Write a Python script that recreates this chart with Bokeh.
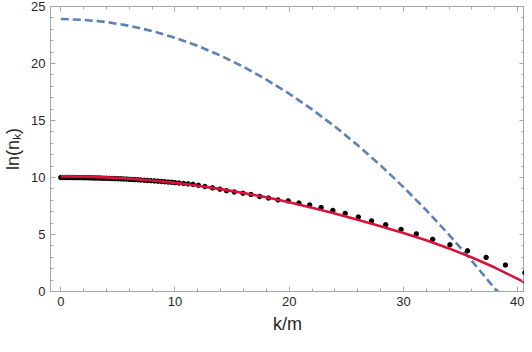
from bokeh.plotting import figure
from bokeh.models import LinearAxis, SingleIntervalTicker, Range1d
from bokeh.embed import file_html
from bokeh.resources import INLINE

# dashed blue curve
blue_x = [0, 2, 4, 6, 8, 10, 12, 14, 16, 18, 20, 22, 24, 26, 28, 30, 32, 34, 36, 38, 38.3]
blue_y = [23.9, 23.83, 23.64, 23.31, 22.85, 22.26, 21.54, 20.69, 19.71, 18.59, 17.35,
          15.97, 14.47, 12.83, 11.06, 9.16, 7.13, 4.97, 2.67, 0.25, 0.0]

# red solid curve
red_x = [0, 2, 4, 6, 8, 10, 12, 14, 16, 18, 20, 22, 24, 26, 28, 30, 32, 34, 36, 38, 40, 41]
red_y = [10.1, 10.08, 10.01, 9.9, 9.74, 9.53, 9.28, 8.98, 8.64, 8.26, 7.82, 7.34, 6.84,
         6.3, 5.72, 5.14, 4.5, 3.78, 2.98, 2.1, 1.1, 0.6]

# black points
dot_x = [0, 0.15, 0.3, 0.45, 0.6, 0.75, 0.9, 1.05, 1.2, 1.4, 1.6, 1.8, 2.0, 2.2, 2.4,
         2.6, 2.8, 3.0, 3.2, 3.4, 3.6, 3.8, 4.0, 4.25, 4.5, 4.75, 5.0, 5.25, 5.5, 5.75,
         6.0, 6.25, 6.5, 6.75, 7.0, 7.3, 7.6, 7.9, 8.2, 8.5, 8.8, 9.1, 9.4, 9.7,
         10.0, 10.35, 10.75, 11.15,
         11.57, 12.05, 12.62, 13.28, 13.93, 14.51, 15.19, 15.94, 16.65, 17.42, 18.19,
         19.02, 19.91, 20.85, 21.79, 22.79, 23.82, 24.9, 26.05, 27.21, 28.45, 29.79,
         31.13, 32.56, 34.07, 35.61, 37.24, 38.93, 40.64]
dot_y = [10.0, 10.0, 10.0, 10.0, 10.0, 10.0, 10.0, 10.0, 9.99, 9.99, 9.99, 9.99, 9.98,
         9.98, 9.97, 9.97, 9.96, 9.96, 9.95, 9.95, 9.94, 9.93, 9.93, 9.92, 9.91, 9.9,
         9.89, 9.88, 9.87, 9.86, 9.84, 9.83, 9.81, 9.8, 9.78, 9.76, 9.74, 9.72, 9.7,
         9.68, 9.65, 9.63, 9.6, 9.58, 9.55, 9.52, 9.48, 9.44,
         9.40, 9.32, 9.21, 9.09, 8.98, 8.84, 8.73, 8.62, 8.51, 8.34, 8.20, 8.03, 7.95,
         7.76, 7.59, 7.36, 7.11, 6.85, 6.53, 6.19, 5.85, 5.44, 5.05, 4.58, 4.10, 3.57,
         2.99, 2.32, 1.65]

x_ticks_major = 10
y_ticks_major = 5

FONT = "Liberation Sans"
FRAME = "#a6a6a6"
TXT = "#262626"

p = figure(width=524, height=336, output_backend="svg", toolbar_location=None,
           x_range=Range1d(-0.9, 40.6), y_range=Range1d(0, 25),
           x_axis_location=None, y_axis_location=None,
           min_border_left=0, min_border_right=0, min_border_top=6, min_border_bottom=0)
p.background_fill_color = "white"
p.border_fill_color = "white"
p.outline_line_color = FRAME
p.grid.visible = False

bottom = LinearAxis(ticker=SingleIntervalTicker(interval=x_ticks_major, num_minor_ticks=5),
                    axis_label="k/m")
left = LinearAxis(ticker=SingleIntervalTicker(interval=y_ticks_major, num_minor_ticks=5),
                  axis_label="ln(nₖ)")
top = LinearAxis(ticker=SingleIntervalTicker(interval=x_ticks_major, num_minor_ticks=5))
right = LinearAxis(ticker=SingleIntervalTicker(interval=y_ticks_major, num_minor_ticks=5))
p.add_layout(bottom, "below")
p.add_layout(left, "left")
p.add_layout(top, "above")
p.add_layout(right, "right")

for ax in [bottom, left, top, right]:
    ax.axis_line_color = FRAME
    ax.major_tick_line_color = FRAME
    ax.minor_tick_line_color = FRAME
    ax.major_tick_in = 5
    ax.major_tick_out = 0
    ax.minor_tick_in = 3
    ax.minor_tick_out = 0
    ax.major_label_text_font = FONT
    ax.major_label_text_font_size = "13px"
    ax.major_label_text_color = TXT
    ax.axis_label_text_font = FONT
    ax.axis_label_text_font_size = "18px"
    ax.axis_label_text_font_style = "normal"
    ax.axis_label_text_color = TXT

for ax in [top, right]:
    ax.major_label_text_font_size = "0px"
    ax.major_label_standoff = 0

bottom.major_label_standoff = 5
bottom.axis_label_standoff = 5
left.major_label_standoff = 5
left.axis_label_standoff = 5

p.line(blue_x, blue_y, line_color="#5E81B5", line_width=2.6, line_dash="8 4")
p.scatter(dot_x, dot_y, size=4.5, color="black")
p.line(red_x, red_y, line_color="#D9123A", line_width=2.6)

open("out.html", "w").write(file_html(p, INLINE))
